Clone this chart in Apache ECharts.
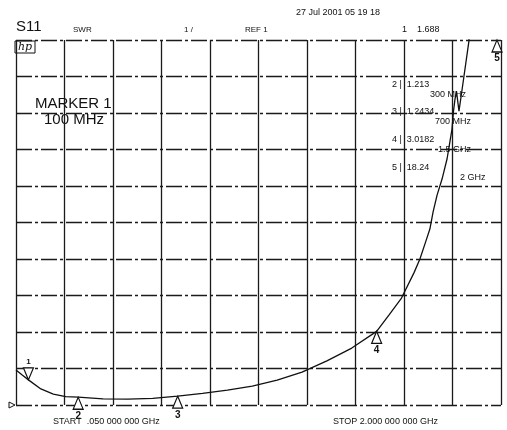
<!DOCTYPE html>
<html>
<head>
<meta charset="utf-8">
<script src="https://cdn.jsdelivr.net/npm/echarts@6/dist/echarts.min.js"></script>
<style>
  html, body { margin: 0; padding: 0; background: #fff; }
  #chart { width: 507px; height: 430px; }
</style>
</head>
<body>
<div id="chart"></div>
<script>
// Sweep settings (MHz)
const START_MHZ = 50;
const STOP_MHZ = 2000;
const SPAN_MHZ = STOP_MHZ - START_MHZ;
const DIV_MHZ = SPAN_MHZ / 10;

// SWR display scale: REF 1 at the bottom, 1 unit per division
const SWR_REF = 1;
const SWR_PER_DIV = 1;
const SWR_TOP = SWR_REF + 10 * SWR_PER_DIV;

// S11 SWR trace
const freqMHz = [50, 75, 100, 150, 200, 250, 300, 400, 500, 600, 700, 800, 900, 1000,
  1100, 1200, 1300, 1400, 1500, 1550, 1600, 1650, 1674, 1698, 1714, 1727, 1743, 1763,
  1783, 1795, 1803, 1809, 1815, 1821, 1831, 1841, 1871, 1880, 1900, 1950, 2000];
const swr = [1.96, 1.82, 1.688, 1.44, 1.30, 1.23, 1.213, 1.17, 1.16, 1.18, 1.2434, 1.32,
  1.41, 1.52, 1.68, 1.90, 2.21, 2.56, 3.0182, 3.47, 3.93, 4.62, 5.0, 5.49, 5.82, 6.29,
  6.75, 7.19, 7.74, 8.23, 8.56, 9.05, 9.38, 9.60, 9.05, 9.52, 10.97, 12.5, 14.0, 16.3, 18.24];

// Markers
const markerIds = [1, 2, 3, 4, 5];
const markerFreqMHz = [100, 300, 700, 1500, 2000];
const markerSwr = [1.688, 1.213, 1.2434, 3.0182, 18.24];
const markerFreqText = ['100 MHz', '300 MHz', '700 MHz', '1.5 GHz', '2 GHz'];

const FONT = '"Liberation Sans", Arial, sans-serif';

const traceData = freqMHz.map((f, i) => [f - START_MHZ, swr[i]]);

// Marker 1 hangs above the trace pointing down; the others sit below pointing up.
// An off-scale marker is pinned to the top edge of the graticule.
const markPoints = markerIds.map((id, i) => {
  const onScale = markerSwr[i] <= SWR_TOP;
  const y = Math.min(markerSwr[i], SWR_TOP);
  const down = id === 1;
  return {
    coord: [markerFreqMHz[i] - START_MHZ, y],
    symbol: 'triangle',
    symbolSize: [10, 12],
    symbolRotate: down ? 180 : 0,
    symbolOffset: [onScale ? 0 : -4, down ? -6 : 6],
    itemStyle: { color: '#fff', borderColor: '#111', borderWidth: 1.2 },
    label: {
      show: true,
      formatter: String(id),
      position: down ? 'top' : 'bottom',
      distance: 1,
      color: '#111',
      fontFamily: FONT,
      fontSize: down ? 8 : 10,
      fontWeight: 'bold'
    }
  };
});

function txt(x, y, text, size, extra) {
  return {
    type: 'text', x: x, y: y,
    style: Object.assign({
      text: text, fill: '#111', font: size + 'px ' + FONT,
      textVerticalAlign: 'middle'
    }, extra || {})
  };
}

// Marker readout table at the upper right
const readout = [];
const readY = [85, 112, 140, 168];
const freqPos = [[430, 95], [435, 122], [438, 150], [460, 178]];
for (let k = 1; k < 5; k++) {
  readout.push(txt(392, readY[k - 1], markerIds[k] + ' |  ' + markerSwr[k], 9));
  readout.push(txt(freqPos[k - 1][0], freqPos[k - 1][1], markerFreqText[k], 9));
}

const chart = echarts.init(document.getElementById('chart'), null, { renderer: 'canvas' });
chart.setOption({
  animation: false,
  backgroundColor: '#fff',
  grid: { left: 16, right: 6, top: 40, bottom: 25, containLabel: false },
  xAxis: {
    type: 'value', min: 0, max: SPAN_MHZ, interval: DIV_MHZ,
    axisLine: { show: false }, axisTick: { show: false }, axisLabel: { show: false },
    splitLine: { show: true, lineStyle: { color: '#1a1a1a', width: 1.3, type: 'solid' } }
  },
  yAxis: {
    type: 'value', min: SWR_REF, max: SWR_TOP, interval: SWR_PER_DIV,
    axisLine: { show: false }, axisTick: { show: false }, axisLabel: { show: false },
    splitLine: { show: true, lineStyle: { color: '#1a1a1a', width: 1.3, type: [16, 3, 3, 3] } }
  },
  series: [{
    type: 'line',
    data: traceData,
    showSymbol: false,
    clip: true,
    lineStyle: { color: '#111', width: 1.3 },
    markPoint: { data: markPoints, animation: false }
  }],
  graphic: [
    txt(296, 13, '27 Jul 2001 05 19 18', 9),
    txt(16, 27, 'S11', 15),
    txt(73, 30, 'SWR', 8),
    txt(184, 30, '1 /', 8),
    txt(245, 30, 'REF 1', 8),
    txt(402, 30, '1    ' + markerSwr[0], 9),
    { type: 'rect', shape: { x: 15, y: 41, width: 20, height: 12 },
      style: { fill: '#fff', stroke: '#111', lineWidth: 1 } },
    txt(18, 47, 'hp', 11, { font: 'italic 11px "DejaVu Serif", serif' }),
    txt(35, 104, 'MARKER 1', 15),
    txt(44, 120, markerFreqText[0], 15),
    // reference level pointer at the left of the bottom line
    { type: 'polygon', shape: { points: [[9, 402], [9, 408], [15, 405]] },
      style: { fill: '#fff', stroke: '#111', lineWidth: 1 } },
    txt(53, 422, 'START  .050 000 000 GHz', 9),
    txt(333, 422, 'STOP 2.000 000 000 GHz', 9)
  ].concat(readout)
});
</script>
</body>
</html>
